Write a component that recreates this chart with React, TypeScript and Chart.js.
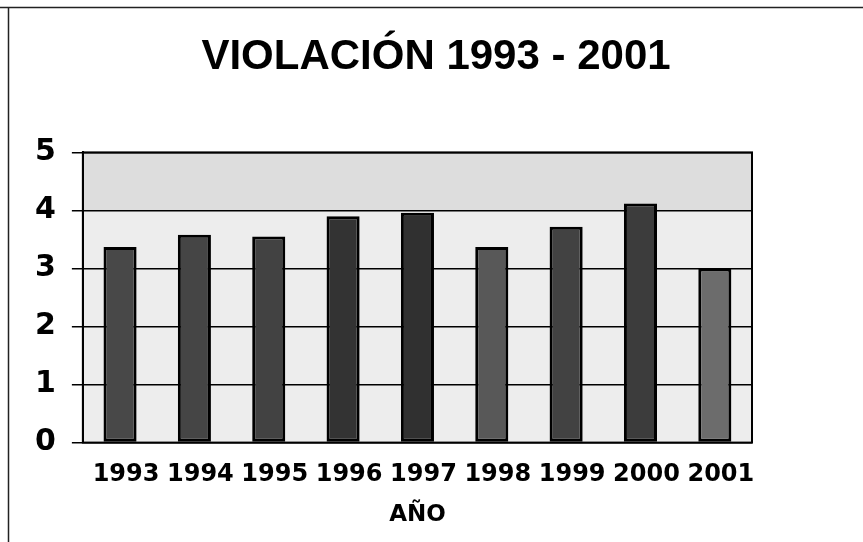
import React, { useEffect, useRef } from 'react';
import { Chart, registerables } from 'chart.js';

Chart.register(...registerables);

const years: string[] = ['1993', '1994', '1995', '1996', '1997', '1998', '1999', '2000', '2001'];
const values: number[] = [3.37, 3.58, 3.55, 3.9, 3.96, 3.37, 3.72, 4.12, 3.0];
const yMin = 0;
const yMax = 5;
const yStep = 1;
const titleText = 'VIOLACIÓN 1993 - 2001';
const xAxisTitle = 'AÑO';
const barColors: string[] = ['#484848', '#454545', '#424242', '#333333', '#303030', '#585858', '#424242', '#3c3c3c', '#6c6c6c'];

const framePlugin = {
  id: 'framePlugin',
  beforeDraw(chart: any) {
    const { ctx, chartArea: a, scales } = chart;
    ctx.save();
    ctx.fillStyle = '#ffffff';
    ctx.fillRect(0, 0, chart.width, chart.height);
    ctx.fillStyle = '#ededed';
    ctx.fillRect(a.left, a.top, a.width, a.height);
    const y4 = scales.y.getPixelForValue(4);
    ctx.fillStyle = '#dddddd';
    ctx.fillRect(a.left, a.top, a.width, y4 - a.top);
    ctx.restore();
  },
  afterDraw(chart: any) {
    const { ctx, chartArea: a } = chart;
    ctx.save();
    ctx.strokeStyle = '#000';
    ctx.lineWidth = 2;
    ctx.strokeRect(a.left, a.top, a.width, a.height);
    ctx.strokeStyle = '#222';
    ctx.lineWidth = 1.5;
    ctx.beginPath();
    ctx.moveTo(0, 7.5);
    ctx.lineTo(chart.width, 7.5);
    ctx.moveTo(8.5, 7);
    ctx.lineTo(8.5, chart.height);
    ctx.stroke();
    ctx.restore();
  },
};

export default function App() {
  const ref = useRef<HTMLCanvasElement | null>(null);
  useEffect(() => {
    if (!ref.current) return;
    const chart = new Chart(ref.current, {
      type: 'bar',
      data: {
        labels: years,
        datasets: [
          {
            data: values,
            yAxisID: 'y',
            backgroundColor: barColors,
            borderColor: '#000',
            borderWidth: 3,
            borderSkipped: false,
            barPercentage: 0.445,
            categoryPercentage: 1,
          },
        ],
      },
      options: {
        responsive: false,
        animation: false,
        devicePixelRatio: 1,
        layout: { padding: { top: 0, left: 19, right: 10, bottom: 13 } },
        plugins: {
          legend: { display: false },
          tooltip: { enabled: false },
          title: {
            display: true,
            text: titleText,
            color: '#000',
            font: { family: '"Liberation Sans", Arial, sans-serif', size: 42, weight: 'bold' },
            padding: { top: 32, bottom: 70 },
          },
        },
        scales: {
          x: {
            grid: { display: false, drawTicks: false },
            border: { display: false },
            ticks: {
              color: '#000',
              font: { family: '"DejaVu Sans", sans-serif', size: 24, weight: 'bold' },
              padding: 18,
              labelOffset: 6,
              maxRotation: 0,
              autoSkip: false,
            },
            title: {
              display: true,
              text: xAxisTitle,
              color: '#000',
              font: { family: '"DejaVu Sans", sans-serif', size: 23, weight: 'bold' },
              padding: { top: -6, bottom: 0 },
            },
          },
          y: {
            position: 'left',
            min: yMin,
            max: yMax,
            ticks: {
              stepSize: yStep,
              color: '#000',
              font: { family: '"DejaVu Sans", sans-serif', size: 30, weight: 'bold' },
              padding: 16,
            },
            grid: { color: '#000', lineWidth: 1.5, tickLength: 11, tickColor: '#000' },
            border: { display: true, color: '#000', width: 2 },
          },
          yRight: {
            position: 'right',
            min: yMin,
            max: yMax,
            ticks: { display: false },
            grid: { display: false, drawTicks: false },
            border: { display: false },
            afterFit: (scale: any) => {
              scale.width = 101;
            },
          },
        },
      },
      plugins: [framePlugin],
    });
    return () => chart.destroy();
  }, []);
  return (
    <div style={{ position: 'fixed', left: 0, top: 0, width: 863, height: 542, background: '#fff' }}>
      <canvas ref={ref} width={863} height={542} style={{ display: 'block', width: 863, height: 542 }} />
    </div>
  );
}
